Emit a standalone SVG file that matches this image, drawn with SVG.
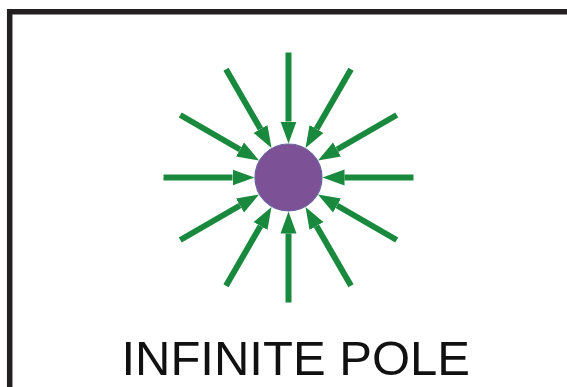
<svg xmlns="http://www.w3.org/2000/svg" width="567" height="387" viewBox="0 0 567 387">
<style>
.arr{stroke:#19893d;stroke-width:6;fill:none;marker-end:url(#ah)}
.border{stroke:#231f20;stroke-width:5.5;fill:none}
.lbl{font-family:"Liberation Sans",Arial,sans-serif;font-size:49px;fill:#111;text-anchor:middle}
</style>
<defs>
<marker id="ah" markerUnits="userSpaceOnUse" markerWidth="23" markerHeight="17" viewBox="0 0 23 17" refX="0" refY="8.5" orient="auto">
<path d="M0,0.5 L22,8.5 L0,16.5 z" fill="#19893d"/>
</marker>
</defs>
<rect width="567" height="387" fill="#fff"/>
<g id="frame">
<path class="border" d="M9.7,387 V11.7 H567"/>
</g>
<g id="connectors">
<line class="arr" x1="413.5" y1="177.5" x2="344.5" y2="177.5"/>
<line class="arr" x1="396.75" y1="240" x2="337" y2="205.5"/>
<line class="arr" x1="351" y1="285.75" x2="316.5" y2="226"/>
<line class="arr" x1="288.5" y1="302.5" x2="288.5" y2="233.5"/>
<line class="arr" x1="226" y1="285.75" x2="260.5" y2="226"/>
<line class="arr" x1="180.25" y1="240" x2="240" y2="205.5"/>
<line class="arr" x1="163.5" y1="177.5" x2="232.5" y2="177.5"/>
<line class="arr" x1="180.25" y1="115" x2="240" y2="149.5"/>
<line class="arr" x1="226" y1="69.25" x2="260.5" y2="129"/>
<line class="arr" x1="288.5" y1="52.5" x2="288.5" y2="121.5"/>
<line class="arr" x1="351" y1="69.25" x2="316.5" y2="129"/>
<line class="arr" x1="396.75" y1="115" x2="337" y2="149.5"/>
</g>
<g id="pole">
<circle cx="288.5" cy="177.5" r="33.5" fill="#7d5196" stroke="#6a62a0" stroke-width="1.2"/>
</g>
<g id="label">
<text class="lbl" x="295.7" y="375">INFINITE POLE</text>
</g>
</svg>
